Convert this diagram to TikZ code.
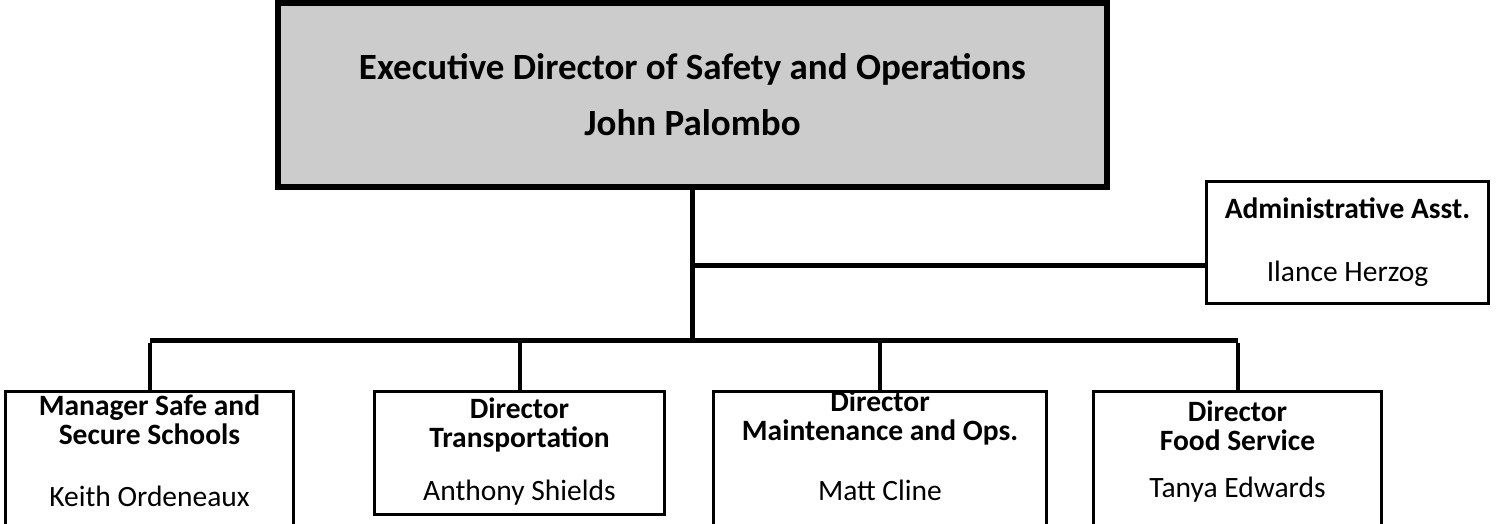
\documentclass[tikz,border=0pt]{standalone}
\usepackage{fontspec}
\setmainfont{Carlito}
\usetikzlibrary{positioning}
\definecolor{execColor}{RGB}{204,204,204}
\tikzset{staff/.style={draw, line width=3pt, anchor=north, minimum height=150pt, inner sep=0pt}}
\tikzset{stafftext/.style={align=center, inner sep=0pt, anchor=north, font=\fontsize{29.5}{29}\selectfont}}
\tikzset{exec/.style={draw, line width=6pt, fill=execColor, align=center, inner sep=0pt, minimum width=829pt, minimum height=184pt, font=\bfseries\fontsize{37}{56}\selectfont}}
\tikzset{asst/.style={draw, line width=2.5pt, align=center, inner sep=0pt, minimum width=282pt, minimum height=122pt, font=\fontsize{29.5}{31}\selectfont}}
\tikzstyle{link} = [line width=5pt]

\begin{document}
\begin{tikzpicture}[x=1pt, y=-1pt, node distance=8pt]
	\useasboundingbox (0,0) rectangle (1497,523);
	\clip (0,0) rectangle (1497,523);
	% Nodes
		\node (dir) [exec] at (692.5,95) {Executive Director of Safety and Operations\\John Palombo};
		\node (asst) [asst] at (1347.5,242.5) {\textbf{Administrative Asst.}\\[32pt]Ilance Herzog};

		\node (mgr) [staff, minimum width=288pt] at (149.5,389.5) {};
		\node (trans) [staff, minimum width=290pt, minimum height=123pt] at (519.5,389.5) {};
		\node (maint) [staff, minimum width=333pt] at (880,389.5) {};
		\node (food) [staff, minimum width=288pt] at (1237.5,389.5) {};

		\node (mgr-txt) [stafftext, below=5pt of mgr.north] {\textbf{Manager Safe and}\\\textbf{Secure Schools}\\[33pt]Keith Ordeneaux};
		\node (trans-txt) [stafftext, below=of trans.north] {\textbf{Director}\\\textbf{Transportation}\\[24pt]Anthony Shields};
		\node (maint-txt) [stafftext, below=1pt of maint.north] {\textbf{Director}\\\textbf{Maintenance and Ops.}\\[31pt]Matt Cline};
		\node (food-txt) [stafftext, below=11pt of food.north] {\textbf{Director}\\\textbf{Food Service}\\[18pt]Tanya Edwards};

		\coordinate (join) at (692.5,265);
		\coordinate (split) at (692.5,340);

		% Connectors
		\begin{scope}[link]
			\draw (dir.south) -- (split);
			\draw (join) -- (join -| asst.west);
			\draw (split -| mgr.north) -- (split -| food.north);
			\foreach \b in {mgr,trans,maint,food}
				\draw[line width=4pt] ([yshift=-2.5pt]split -| \b.north) -- (\b.north);
		\end{scope}
\end{tikzpicture}
\end{document}
